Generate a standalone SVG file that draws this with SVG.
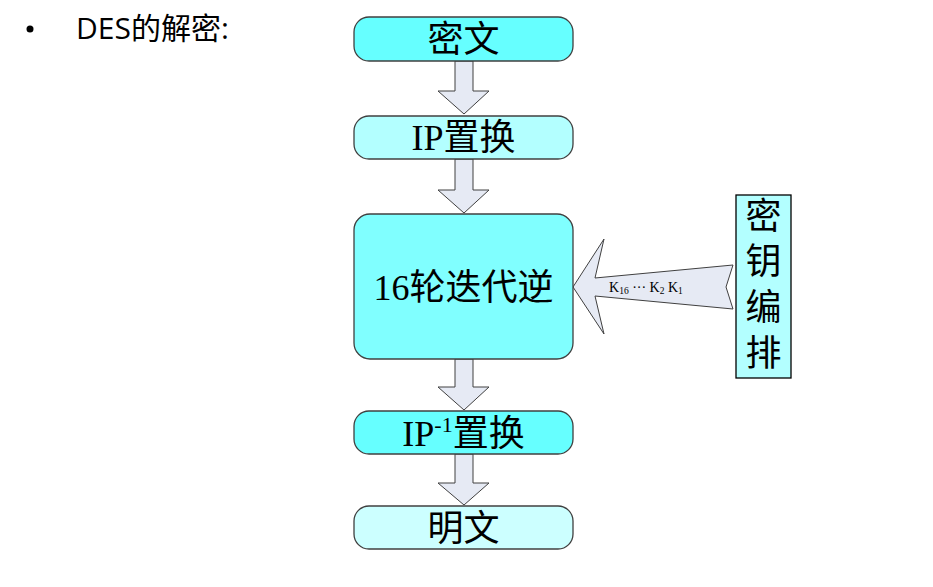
<svg xmlns="http://www.w3.org/2000/svg" width="933" height="587" viewBox="0 0 933 587">
<style>
.box{stroke:#404040;stroke-width:1.3}
.arr{fill:#E6EAF4;stroke:#404040;stroke-width:1}
.t{font-family:"Liberation Serif","Noto Sans CJK SC",serif;font-size:36px;fill:#000;text-anchor:middle}
.k{font-family:"Liberation Serif","Noto Sans CJK SC",serif;font-size:36px;fill:#000;text-anchor:middle}
.lbl{font-family:"Liberation Serif",serif;font-size:14px;fill:#000}
.title{font-family:"Open Sans","Noto Sans CJK SC",sans-serif;font-size:30px;fill:#000}
</style>
<g id="title">
<circle cx="30" cy="29" r="3.5" fill="#000"/>
<text class="title" x="76" y="39">DES的解密:</text>
</g>
<g id="connectors">
<polygon class="arr" points="455,61 473,61 473,91 489,91 464,114 438,91 455,91"/>
<polygon class="arr" points="455,159 473,159 473,190 489,190 464,213 438,190 455,190"/>
<polygon class="arr" points="455,359 473,359 473,387 489,387 464,410 438,387 455,387"/>
<polygon class="arr" points="455,454 473,454 473,483 489,483 464,505 438,483 455,483"/>
<polygon class="arr" points="573,287 604,239 595,278 733,265 726,287 733,309 595,296 604,334"/>
<text class="lbl" x="609" y="292">K<tspan font-size="9.5" dy="2">16</tspan><tspan dy="-2"> ··· K</tspan><tspan font-size="9.5" dy="2">2</tspan><tspan dy="-2"> K</tspan><tspan font-size="9.5" dy="2">1</tspan></text>
</g>
<g id="n1">
<rect class="box" x="354" y="17" width="219" height="44" rx="15" fill="#66FFFF"/>
<text class="t" x="463.5" y="52">密文</text>
</g>
<g id="n2">
<rect class="box" x="354" y="116" width="219" height="43" rx="15" fill="#B3FFFF"/>
<text class="t" x="463.5" y="150">IP置换</text>
</g>
<g id="n3">
<rect class="box" x="354" y="214" width="219" height="145" rx="16" fill="#80FFFF"/>
<text class="t" x="463.5" y="300">16轮迭代逆</text>
</g>
<g id="n4">
<rect class="box" x="354" y="411" width="219" height="43" rx="15" fill="#66FFFF"/>
<text class="t" x="463.5" y="446">IP<tspan font-size="22" dy="-14">-1</tspan><tspan dy="14">置换</tspan></text>
</g>
<g id="n5">
<rect class="box" x="354" y="506" width="219" height="43" rx="15" fill="#CCFFFF"/>
<text class="t" x="463.5" y="541">明文</text>
</g>
<g id="key">
<rect x="736" y="195" width="55" height="183" fill="#B3FFFF" stroke="#000" stroke-width="1.3"/>
<text class="k" x="763.5" y="229">密</text>
<text class="k" x="763.5" y="274">钥</text>
<text class="k" x="763.5" y="320">编</text>
<text class="k" x="763.5" y="366">排</text>
</g>
</svg>
